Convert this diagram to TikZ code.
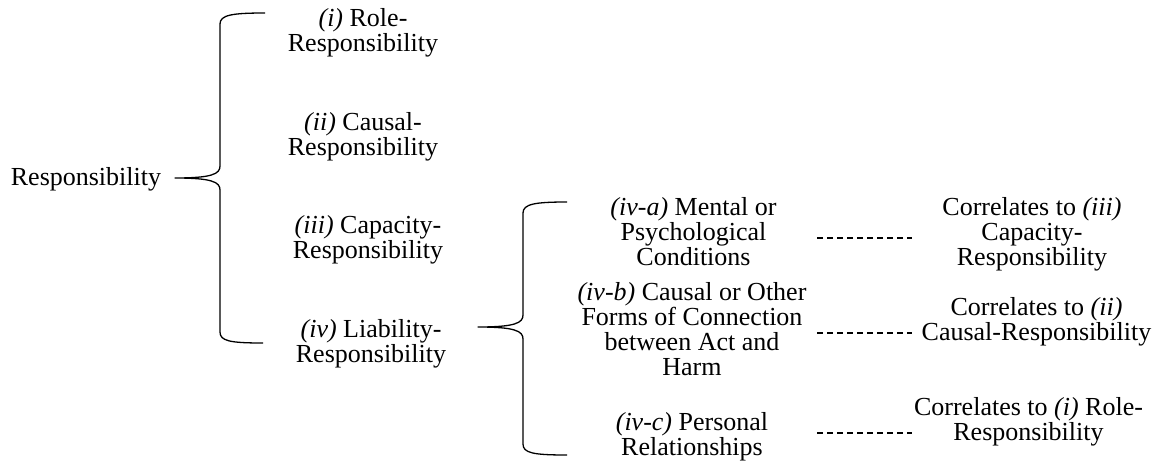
\documentclass[tikz,border=0pt]{standalone}
\usepackage{fontspec}
\setmainfont{Liberation Serif}
\begin{document}
\begin{tikzpicture}[x=1pt,y=-1pt,
  txt/.style={font=\fontsize{26}{25}\selectfont, align=center, inner sep=0pt, anchor=north},
  brace/.style={line width=1.3pt, line join=round},
  dashline/.style={line width=1.1pt, dash pattern=on 5.5pt off 4.5pt}]
\useasboundingbox (0,0) rectangle (1158,460);

% level 0
\node[txt, anchor=base] (resp) at (86,185) {Responsibility};

% level 1
\node[txt] (i)   at (363,8.7)   {\textit{(i)} Role-\\Responsibility};
\node[txt] (ii)  at (363,112.2) {\textit{(ii)} Causal-\\Responsibility};
\node[txt] (iii) at (368,215.7) {\textit{(iii)} Capacity-\\Responsibility};
\node[txt] (iv)  at (371,319.2) {\textit{(iv)} Liability-\\Responsibility};

% level 2
\node[txt] (iva) at (693.5,197) {\textit{(iv-a)} Mental or\\Psychological\\Conditions};
\node[txt] (ivb) at (692,282)   {\textit{(iv-b)} Causal or Other\\Forms of Connection\\between Act and\\Harm};
\node[txt] (ivc) at (692,412)   {\textit{(iv-c)} Personal\\Relationships};

% correlations
\node[txt] (ca) at (1032,197)  {Correlates to \textit{(iii)}\\Capacity-\\Responsibility};
\node[txt] (cb) at (1036.5,297) {Correlates to \textit{(ii)}\\Causal-Responsibility};
\node[txt] (cc) at (1028.5,397) {Correlates to \textit{(i)} Role-\\Responsibility};

% brace 1
\draw[brace] (265,13) .. controls (232,13) and (220,15) .. (220,24)
  -- (220,166) .. controls (220,174) and (212,178) .. (175,178)
  .. controls (212,178) and (220,182) .. (220,190)
  -- (220,332) .. controls (220,341) and (230,343) .. (263,343);

% brace 2
\draw[brace] (567,202) .. controls (535,202) and (523,204) .. (523,213)
  -- (523,315) .. controls (523,323) and (515,327) .. (478,327)
  .. controls (515,327) and (523,331) .. (523,339)
  -- (523,444) .. controls (523,453) and (533,455) .. (567,455);

% dashed correlation lines
\coordinate (dl1) at (817,238); \coordinate (dr1) at (912,238);
\coordinate (dl2) at (817,333); \coordinate (dr2) at (912,333);
\coordinate (dl3) at (817,433); \coordinate (dr3) at (912,433);
\draw[dashline] (dl1) -- (dr1);
\draw[dashline] (dl2) -- (dr2);
\draw[dashline] (dl3) -- (dr3);
\end{tikzpicture}
\end{document}
